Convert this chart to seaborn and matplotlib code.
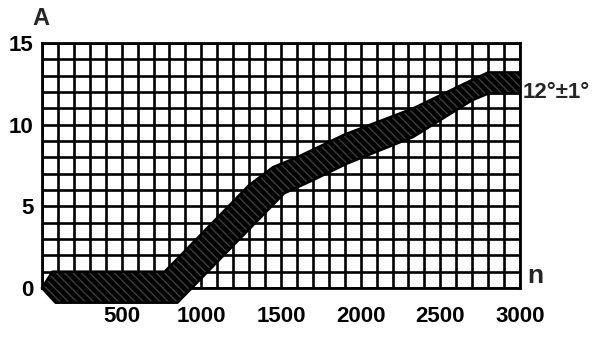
import numpy as np
import pandas as pd
import matplotlib
matplotlib.use("Agg")
import matplotlib.pyplot as plt
import seaborn as sns

# Upper and lower boundaries of the tolerance band
upper_n = [0, 65, 770, 1300, 1450, 1600, 1900, 2330, 2670, 2800, 3000]
upper_a = [0.0, 1.0, 1.0, 6.3, 7.4, 8.0, 9.4, 11.0, 12.6, 13.2, 13.2]
lower_n = [0, 85, 850, 1520, 1700, 1910, 2330, 2700, 2800, 3000]
lower_a = [0.0, -0.9, -0.9, 5.8, 6.6, 7.6, 9.25, 11.5, 11.9, 11.9]

x_ticks = [500, 1000, 1500, 2000, 2500, 3000]
y_ticks = [0, 5, 10, 15]
band_label = "12°±1°"

sns.set_style("white")
plt.rcParams['font.family'] = ['Liberation Sans', 'DejaVu Sans']
plt.rcParams['font.weight'] = 'bold'
plt.rcParams['hatch.linewidth'] = 1.0

fig = plt.figure(figsize=(6.07, 3.42), dpi=100)
ax = fig.add_axes([42/607, 54/342, 478/607, 245/342])

upper = pd.DataFrame({"n": upper_n, "A": upper_a})
lower = pd.DataFrame({"n": lower_n, "A": lower_a})

poly_x = np.concatenate([upper["n"].values, lower["n"].values[::-1]])
poly_y = np.concatenate([upper["A"].values, lower["A"].values[::-1]])
ax.fill(poly_x, poly_y, facecolor="black", edgecolor="#3c3c3c", hatch="\\\\\\\\",
        linewidth=0, clip_on=False, zorder=3)
sns.lineplot(data=upper, x="n", y="A", ax=ax, color="black", lw=1.8,
             sort=False, zorder=4, clip_on=False)
sns.lineplot(data=lower, x="n", y="A", ax=ax, color="black", lw=1.8,
             sort=False, zorder=4, clip_on=False)

ax.set_xlim(0, 3000)
ax.set_ylim(0, 15)
ax.set_xticks(x_ticks)
ax.set_xticks(np.arange(0, 3001, 100), minor=True)
ax.set_yticks(y_ticks)
ax.set_yticks(np.arange(0, 16, 1), minor=True)
ax.grid(True, which="both", color="black", linewidth=1.9)
ax.set_axisbelow(True)

for s in ax.spines.values():
    s.set_color("black")
    s.set_linewidth(2.0)

ax.tick_params(axis="x", which="major", length=3, width=1.5, pad=10,
               labelsize=16, colors="black")
ax.tick_params(axis="y", which="major", length=3, width=1.5, pad=3,
               labelsize=16, colors="black")
ax.tick_params(which="minor", length=0)
for lab in ax.get_xticklabels() + ax.get_yticklabels():
    lab.set_fontweight("bold")

ax.set_xlabel("")
ax.set_ylabel("")
ax.text(-0.002, 1.055, "A", transform=ax.transAxes, ha="center", va="bottom",
        fontsize=17, fontweight="bold")
ax.text(1.015, 0.0, "n", transform=ax.transAxes, ha="left", va="bottom",
        fontsize=19, fontweight="bold")
ax.text(3015, 12.0, band_label, ha="left", va="center", fontsize=16,
        fontweight="bold", clip_on=False)

fig.savefig("out.png", dpi=100)
